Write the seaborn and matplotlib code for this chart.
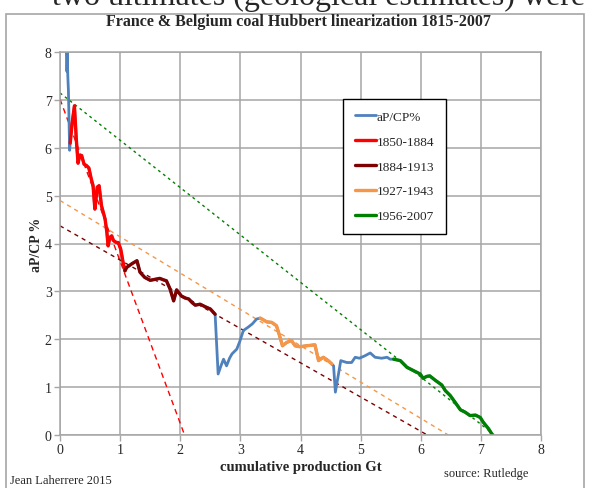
import numpy as np
import pandas as pd
import seaborn as sns
import matplotlib.pyplot as plt
from matplotlib.patches import Rectangle

# cumulative production (Gt) and aP/CP (%), piece by piece
early_cp = [0.11, 0.115, 0.12, 0.13, 0.14, 0.15, 0.16, 0.17]
early_r = [8.3, 7.6, 8.0, 7.5, 7.2, 6.6, 5.95, 6.1]

p1850_cp = [0.17, 0.20, 0.24, 0.27, 0.30, 0.33, 0.36, 0.40, 0.44, 0.48, 0.52, 0.55,
            0.58, 0.60, 0.62, 0.65, 0.69, 0.75, 0.78, 0.80, 0.83, 0.86, 0.89, 0.94,
            0.97, 1.01, 1.05, 1.08]
p1850_r = [6.1, 6.5, 6.88, 6.2, 5.68, 5.85, 5.84, 5.66, 5.63, 5.58, 5.35, 5.21,
           4.72, 4.95, 5.18, 5.21, 4.79, 4.51, 4.23, 3.95, 4.13, 4.16, 4.06, 4.02,
           4.02, 3.88, 3.6, 3.43]

p1884_cp = [1.08, 1.11, 1.20, 1.28, 1.33, 1.41, 1.50, 1.58, 1.66, 1.72, 1.77, 1.83,
            1.89, 1.94, 2.02, 2.08, 2.14, 2.20, 2.25, 2.33, 2.41, 2.50, 2.58]
p1884_r = [3.43, 3.50, 3.58, 3.64, 3.40, 3.29, 3.23, 3.25, 3.27, 3.24, 3.22, 3.05,
           2.80, 3.03, 2.90, 2.86, 2.84, 2.76, 2.71, 2.73, 2.68, 2.63, 2.52]

mid_cp = [2.58, 2.63, 2.68, 2.72, 2.77, 2.82, 2.86, 2.94, 2.99, 3.05, 3.13, 3.20,
          3.27, 3.33]
mid_r = [2.52, 1.27, 1.45, 1.58, 1.44, 1.60, 1.69, 1.79, 1.95, 2.18, 2.25, 2.32,
         2.42, 2.44]

p1927_cp = [3.33, 3.44, 3.52, 3.60, 3.65, 3.70, 3.77, 3.85, 3.91, 3.99, 4.10, 4.24,
            4.30, 4.38, 4.46, 4.52]
p1927_r = [2.44, 2.36, 2.35, 2.28, 2.08, 1.86, 1.93, 1.97, 1.86, 1.84, 1.86, 1.88,
           1.55, 1.62, 1.55, 1.48]

late_cp = [4.52, 4.55, 4.58, 4.67, 4.77, 4.85, 4.91, 4.98, 5.07, 5.16, 5.24, 5.35,
           5.44, 5.49, 5.55]
late_r = [1.48, 1.44, 0.89, 1.55, 1.51, 1.51, 1.62, 1.60, 1.65, 1.71, 1.62, 1.60,
          1.62, 1.58, 1.58]

p1956_cp = [5.55, 5.66, 5.77, 5.88, 5.99, 6.04, 6.10, 6.15, 6.24, 6.35, 6.41, 6.49,
            6.57, 6.66, 6.74, 6.82, 6.91, 6.99, 7.04, 7.13, 7.18]
p1956_r = [1.58, 1.55, 1.41, 1.34, 1.27, 1.18, 1.22, 1.23, 1.14, 1.04, 0.92, 0.82,
           0.68, 0.52, 0.47, 0.40, 0.41, 0.36, 0.26, 0.12, 0.02]

# Hubbert fits: intercept at CP=0 and ultimate (x where aP/CP = 0)
fit_periods = ['1850-1884', '1884-1913', '1927-1943', '1956-2007']
fit_intercept = [7.02, 4.37, 4.90, 7.15]
fit_ultimate = [2.07, 6.10, 6.45, 7.22]

colors = {'aP/CP%': '#4F81BD', '1850-1884': '#FF0000', '1884-1913': '#7F0000',
          '1927-1943': '#F79646', '1956-2007': '#008000'}

pieces = [('aP/CP%', early_cp, early_r), ('1850-1884', p1850_cp, p1850_r),
          ('1884-1913', p1884_cp, p1884_r), ('aP/CP%', mid_cp, mid_r),
          ('1927-1943', p1927_cp, p1927_r), ('aP/CP%', late_cp, late_r),
          ('1956-2007', p1956_cp, p1956_r)]
df = pd.concat([pd.DataFrame({'cp': c, 'ratio': r, 'period': p}) for p, c, r in pieces],
               ignore_index=True)

sns.set_theme(style='white')
plt.rcParams['font.family'] = ['Liberation Serif', 'DejaVu Serif']

fig = plt.figure(figsize=(5.89, 4.89), dpi=100)
ax = fig.add_axes([60 / 589, 1 - 435.7 / 489, 481 / 589, 382.4 / 489])

# fit lines
dash_styles = {'1850-1884': (4, 3), '1884-1913': (3, 3), '1927-1943': (3, 3), '1956-2007': (2, 2.5)}
for per, a, u in zip(fit_periods, fit_intercept, fit_ultimate):
    fit_df = pd.DataFrame({'cp': [0, u], 'ratio': [a, 0]})
    sns.lineplot(data=fit_df, x='cp', y='ratio', ax=ax, color=colors[per], lw=1.0,
                 dashes=False, linestyle=(0, dash_styles[per]), label='_nolegend_')

# full series in blue, then coloured periods on top
sns.lineplot(data=df, x='cp', y='ratio', ax=ax, color=colors['aP/CP%'], lw=2.0,
             estimator=None, sort=False, label='aP/CP%')
for per in fit_periods:
    sub = df[df['period'] == per]
    sns.lineplot(data=sub, x='cp', y='ratio', ax=ax, color=colors[per], lw=2.4,
                 estimator=None, sort=False, label=per)

ax.set_xlim(0, 8)
ax.set_ylim(0, 8)
ax.set_xticks(range(0, 9))
ax.set_yticks(range(0, 9))
ax.grid(True, color='#A6A6A6', lw=1.1)
for s in ax.spines.values():
    s.set_color('#A6A6A6')
    s.set_linewidth(1.1)
ax.tick_params(axis='both', which='both', length=4, width=1, color='#A6A6A6',
               labelsize=10, pad=2, direction='out', bottom=True, left=True)
ax.set_xlabel('cumulative production Gt', fontsize=10.5, fontweight='bold', labelpad=3)
ax.set_ylabel('aP/CP %', fontsize=10, fontweight='bold', labelpad=1)

leg = ax.legend(loc='upper left', bbox_to_anchor=(0.588, 0.878), fontsize=9.5,
                frameon=True, fancybox=False, edgecolor='black', framealpha=1,
                handlelength=1.6, handletextpad=0.05, labelspacing=0.95,
                borderpad=0.9, borderaxespad=0)
leg.get_frame().set_linewidth(1.0)

fig.text(0.506, 1 - 22 / 489, 'France & Belgium coal Hubbert linearization 1815-2007',
         ha='center', va='center', fontsize=11.5, fontweight='bold')
fig.text(10 / 589, 1 - 484 / 489, 'Jean Laherrere 2015', ha='left', va='baseline', fontsize=9)
fig.text(528 / 589, 1 - 477 / 489, 'source: Rutledge', ha='right', va='baseline', fontsize=9)
fig.text(585 / 589, 1 - 5 / 489, 'two ultimates (geological estimates) were',
         ha='right', va='baseline', fontsize=23)

fig.patches.append(Rectangle((6 / 589, -0.01), 578 / 589, 1.01 - 15 / 489,
                             transform=fig.transFigure, fill=False,
                             edgecolor='#A6A6A6', lw=1.2))

fig.savefig('out.png', dpi=100)
